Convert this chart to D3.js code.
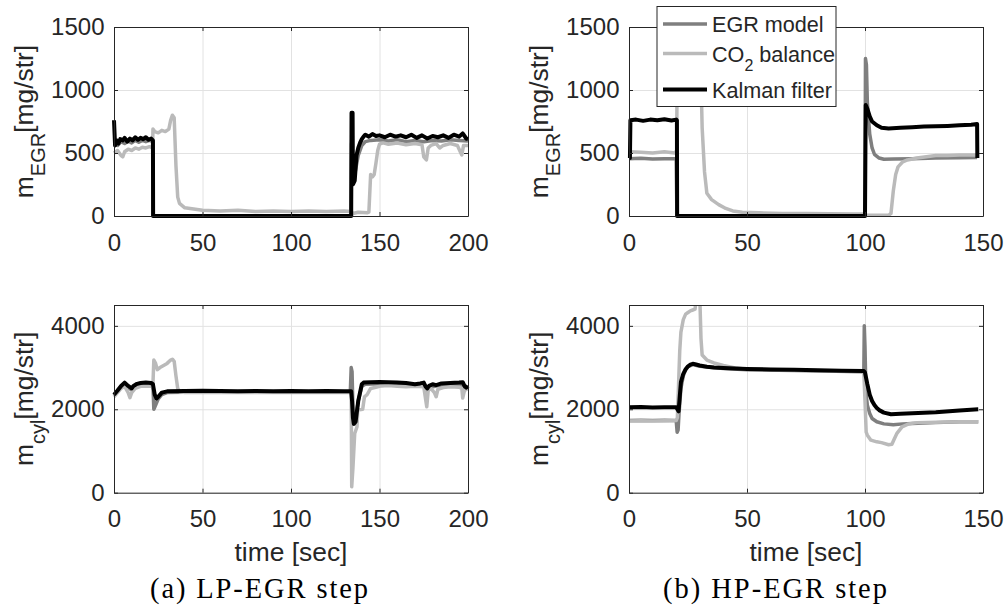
<!DOCTYPE html>
<html>
<head>
<meta charset="utf-8">
<script src="https://cdn.jsdelivr.net/npm/d3@7"></script>
<style>
  body { margin: 0; background: #fff; }
  svg text { font-family: "Liberation Sans", Arial, sans-serif; fill: #262626; }
  .grid line { stroke: #e2e2e2; stroke-width: 1; }
  .grid path { display: none; }
  .ax path, .ax line { stroke: #262626; stroke-width: 1; }
</style>
</head>
<body>
<div id="chart"></div>
<script>
// ---- data: [time sec, value mg/str] ----
const seriesNames = ["EGR model", "CO2 balance", "Kalman filter"];
const seriesColors = ["#7f7f7f", "#bababa", "#000000"];

const lpTimeTicks = [0, 50, 100, 150, 200];
const hpTimeTicks = [0, 50, 100, 150];
const egrTicks = [0, 500, 1000, 1500];
const cylTicks = [0, 2000, 4000];

// (a) LP-EGR step, m_EGR
const lpEgrModel = [[0,570],[2,560],[4,590],[6,575],[8,595],[10,580],[12,600],[14,585],[16,600],[18,590],[20,600],[22,590],[22.1,0],
  [134,0],[134.2,580],[135,300],[136,330],[138,480],[140,560],[142,590],[145,600],[150,605],[155,595],[160,605],[165,590],
  [170,600],[175,590],[180,600],[185,595],[190,605],[195,600],[200,595]];
const lpEgrCo2 = [[0,500],[2,520],[4,480],[5,470],[6,510],[8,530],[10,520],[12,540],[14,530],[16,545],[18,540],[20,550],[21.8,540],
  [22,690],[23,670],[25,660],[27,680],[29,670],[31,690],[32,760],[33,800],[34,780],[35,400],[36,150],[37,100],[40,65],[45,55],
  [50,45],[60,40],[70,45],[80,35],[90,40],[100,35],[110,40],[120,35],[130,40],[134,35],[135,20],[138,30],[143,25],[144,30],
  [145,330],[146,310],[147,330],[148,420],[149,520],[150,570],[152,580],[155,570],[160,580],[165,565],[170,575],[174,565],
  [175,470],[176.5,445],[177.5,540],[179,560],[182,575],[184,540],[186,560],[190,575],[194,560],[196.5,485],[197.5,560],[200,560]];
const lpEgrKalman = [[0,760],[0.6,560],[1.5,600],[2.5,575],[3.5,610],[5,600],[6,620],[7.5,590],[9,615],[10.5,600],[12,625],
  [13.5,605],[15,620],[16.5,610],[18,625],[19.5,605],[21,615],[22,600],[22.1,0],[134,0],[134.2,820],[134.8,820],[135,250],
  [136,280],[137,480],[138,540],[139,580],[140,610],[141,630],[142,645],[144,630],[146,650],[148,635],[150,640],[153,625],
  [156,645],[159,630],[162,640],[165,625],[168,645],[171,620],[174,640],[177,615],[180,635],[183,625],[186,640],[189,620],
  [192,645],[195,630],[197,655],[199,615],[200,610]];

// (b) HP-EGR step, m_EGR
const hpEgrModel = [[0,455],[5,458],[10,452],[15,455],[20,455],[20.3,0],[100,0],[100.2,1250],[100.6,1200],[101,900],[102,650],
  [103,540],[104,490],[106,460],[108,450],[112,452],[120,455],[130,460],[140,462],[147.5,465]];
const hpEgrCo2 = [[0,510],[5,505],[10,500],[15,510],[19.5,500],[20.2,520],[20.6,1900],[30,1900],[30.5,1100],[31,700],[32,350],
  [33,180],[35,130],[38,90],[41,60],[44,40],[48,30],[55,25],[65,20],[75,20],[85,18],[95,15],[100,15],[100.5,5],[105,5],[110,5],
  [111,20],[112,200],[113,330],[114,390],[116,430],[118,445],[122,460],[126,470],[130,480],[135,480],[140,485],[147.5,485]];
const hpEgrKalman = [[0,460],[0.4,460],[0.6,760],[3,765],[6,755],[9,765],[12,760],[15,768],[18,758],[20,765],[20.3,760],
  [20.4,0],[100,0],[100.3,880],[101,850],[102,790],[103,750],[105,720],[107,700],[110,695],[115,700],[120,705],[125,710],
  [130,712],[135,715],[140,720],[145,725],[147.5,730],[147.6,460]];

// (a) LP-EGR step, m_cyl
const lpCylModel = [[0,2330],[2,2420],[4,2530],[6,2600],[8,2520],[10,2460],[12,2560],[15,2600],[18,2610],[21,2600],[22,2580],
  [22.5,2000],[23,2050],[24,2150],[25,2250],[27,2350],[30,2400],[40,2410],[60,2420],[80,2410],[100,2420],[120,2410],
  [133.5,2410],[134,3000],[134.5,2900],[135,2000],[135.5,1700],[136.5,1750],[138,2200],[140,2550],[142,2600],[150,2610],
  [160,2600],[170,2580],[176,2560],[177,2450],[178,2520],[185,2580],[195,2600],[198,2520],[200,2540]];
const lpCylCo2 = [[0,2300],[2,2400],[4,2500],[6,2550],[8,2400],[9,2280],[10,2400],[12,2500],[15,2550],[18,2560],[21,2550],
  [22,2600],[22.5,3180],[23.5,3100],[24.5,2950],[26,3000],[28,3050],[30,3100],[32,3180],[33,3200],[34,3150],[35,2800],
  [36,2500],[37,2420],[40,2400],[60,2410],[80,2400],[100,2410],[120,2400],[134,2400],[134.3,140],[135,600],[136,1420],
  [137.3,1580],[137.7,1980],[140.5,2000],[141.5,2300],[143,2350],[145,2500],[149,2540],[151,2560],[155,2570],[160,2550],
  [165,2540],[170,2550],[175,2540],[176.2,2200],[176.7,2060],[177.5,2450],[179,2500],[181,2400],[182,2300],[183,2480],
  [186,2520],[190,2540],[195,2530],[196.5,2500],[197,2270],[198,2450],[200,2500]];
const lpCylKalman = [[0,2350],[2,2450],[4,2560],[6,2640],[8,2560],[10,2500],[11,2560],[13,2610],[15,2630],[18,2640],[21,2630],
  [22,2600],[23,2350],[24,2260],[25,2300],[27,2400],[30,2430],[40,2440],[50,2445],[60,2440],[70,2435],[80,2440],[90,2435],
  [100,2440],[110,2435],[120,2440],[130,2435],[134,2430],[134.5,2200],[135,1800],[135.5,1650],[136.5,1700],[138,2200],
  [140,2600],[141,2640],[145,2650],[150,2655],[155,2650],[160,2640],[165,2630],[170,2600],[173,2620],[175,2640],[176,2550],
  [177,2500],[178,2560],[180,2600],[182,2580],[185,2620],[190,2630],[195,2640],[197,2650],[198,2560],[199,2520],[200,2560]];

// (b) HP-EGR step, m_cyl
const hpCylModel = [[0,1730],[5,1735],[10,1730],[15,1735],[20,1730],[20.4,1450],[20.8,1500],[21.2,1900],[22,2500],[23,2800],
  [24,2950],[25,3020],[27,3070],[30,3030],[40,2980],[50,2950],[70,2930],[99.5,2900],[99.7,4000],[100,3500],[100.4,2400],
  [101,2100],[102,1900],[103,1780],[105,1700],[108,1650],[112,1630],[116,1650],[120,1660],[130,1680],[140,1700],[148,1700]];
const hpCylCo2 = [[0,1720],[5,1725],[10,1720],[15,1725],[20,1730],[20.5,1800],[21,2600],[21.5,3400],[22,3850],[23,4150],
  [24,4280],[25,4320],[26,4360],[27,4380],[28,4400],[28.5,4700],[30,4700],[30.5,3700],[31,3300],[33,3180],[36,3110],
  [40,3050],[45,2990],[50,2960],[70,2940],[99.5,2900],[100,2200],[100.5,1450],[101,1380],[102.5,1260],[105,1220],[107,1200],
  [110,1150],[111.4,1160],[112.5,1300],[113.6,1430],[115.7,1580],[118.5,1650],[122,1680],[130,1690],[140,1700],[148,1700]];
const hpCylKalman = [[0,2050],[5,2055],[10,2045],[15,2050],[20,2050],[20.5,2000],[21,1950],[21.5,2300],[22,2650],[23,2850],
  [24,2960],[25,3030],[26,3070],[27,3090],[28,3080],[30,3050],[33,3020],[36,3000],[40,2990],[45,2975],[50,2965],[60,2955],
  [70,2945],[80,2935],[90,2925],[99.5,2915],[100,2880],[101,2600],[102,2350],[103,2200],[104,2100],[105,2030],[106,1980],
  [108,1920],[111,1880],[115,1890],[120,1905],[130,1930],[140,1970],[148,2000]];

// ---- layout ----
const width = 1005, height = 614;
const svg = d3.select("#chart").append("svg").attr("width", width).attr("height", height);
svg.append("defs");

const panels = [
  {id:"aTop", x0:114, x1:468, y0:27, y1:216, xMax:200, xTicks:lpTimeTicks, yMax:1500, yTicks:egrTicks, sub:"EGR",
   series:[lpEgrModel, lpEgrCo2, lpEgrKalman]},
  {id:"bTop", x0:629, x1:983, y0:27, y1:216, xMax:150, xTicks:hpTimeTicks, yMax:1500, yTicks:egrTicks, sub:"EGR",
   series:[hpEgrModel, hpEgrCo2, hpEgrKalman], legend:true},
  {id:"aBot", x0:114, x1:468, y0:305, y1:492.7, xMax:200, xTicks:lpTimeTicks, yMax:4500, yTicks:cylTicks, sub:"cyl",
   series:[lpCylModel, lpCylCo2, lpCylKalman], xlabel:true},
  {id:"bBot", x0:629, x1:983, y0:305, y1:492.7, xMax:150, xTicks:hpTimeTicks, yMax:4500, yTicks:cylTicks, sub:"cyl",
   series:[hpCylModel, hpCylCo2, hpCylKalman], xlabel:true}
];

const tickLen = 4;
const strokeW = [3.5, 3.5, 4];

function drawPanel(p) {
  const x = d3.scaleLinear().domain([0, p.xMax]).range([p.x0, p.x1]);
  const y = d3.scaleLinear().domain([0, p.yMax]).range([p.y1, p.y0]);
  const g = svg.append("g");

  // grid
  g.append("g").attr("class", "grid")
    .attr("transform", `translate(0,${p.y1})`)
    .call(d3.axisBottom(x).tickValues(p.xTicks).tickSize(-(p.y1 - p.y0)).tickFormat(""));
  g.append("g").attr("class", "grid")
    .attr("transform", `translate(${p.x0},0)`)
    .call(d3.axisLeft(y).tickValues(p.yTicks).tickSize(-(p.x1 - p.x0)).tickFormat(""));

  // data lines, clipped to the axes box
  svg.select("defs").append("clipPath").attr("id", "clip-" + p.id)
    .append("rect").attr("x", p.x0 - 3).attr("y", p.y0)
    .attr("width", p.x1 - p.x0 + 6).attr("height", p.y1 - p.y0 + 3);
  const line = d3.line().x(d => x(d[0])).y(d => y(d[1]));
  const lines = g.append("g").attr("clip-path", `url(#clip-${p.id})`);
  p.series.forEach((s, i) => {
    lines.append("path").datum(s)
      .attr("d", line)
      .attr("fill", "none")
      .attr("stroke", seriesColors[i])
      .attr("stroke-width", strokeW[i])
      .attr("stroke-linejoin", "round");
  });

  // axes (box with inward ticks)
  const fs = 24;
  const fmt = d3.format("d");
  const bottom = g.append("g").attr("class", "ax")
    .attr("transform", `translate(0,${p.y1})`)
    .call(d3.axisBottom(x).tickValues(p.xTicks).tickFormat(fmt).tickSizeInner(-tickLen).tickSizeOuter(0).tickPadding(17.5));
  bottom.selectAll("text").attr("font-size", fs).attr("fill", "#262626");
  const left = g.append("g").attr("class", "ax")
    .attr("transform", `translate(${p.x0},0)`)
    .call(d3.axisLeft(y).tickValues(p.yTicks).tickFormat(fmt).tickSizeInner(-tickLen).tickSizeOuter(0).tickPadding(9.5));
  left.selectAll("text").attr("font-size", fs).attr("dy", "0.32em").attr("fill", "#262626");
  g.append("g").attr("class", "ax")
    .attr("transform", `translate(0,${p.y0})`)
    .call(d3.axisTop(x).tickValues(p.xTicks).tickSizeInner(-tickLen).tickSizeOuter(0).tickFormat(""));
  g.append("g").attr("class", "ax")
    .attr("transform", `translate(${p.x1},0)`)
    .call(d3.axisRight(y).tickValues(p.yTicks).tickSizeInner(-tickLen).tickSizeOuter(0).tickFormat(""));
  g.selectAll(".ax .domain").attr("stroke", "#262626");

  // y label m_sub[mg/str]
  const ly = (p.y0 + p.y1) / 2;
  const lab = g.append("text")
    .attr("transform", `translate(${p.x0 - 81},${ly}) rotate(-90)`)
    .attr("text-anchor", "middle")
    .attr("font-size", 26.4);
  lab.append("tspan").text("m");
  lab.append("tspan").attr("font-size", 20).attr("dy", 12).text(p.sub);
  lab.append("tspan").attr("dy", -12).text("[mg/str]");

  if (p.xlabel) {
    g.append("text")
      .attr("x", (p.x0 + p.x1) / 2).attr("y", 561)
      .attr("text-anchor", "middle").attr("font-size", 26.4)
      .text("time [sec]");
  }

  if (p.legend) drawLegend();
}

function drawLegend() {
  const lg = svg.append("g").attr("transform", "translate(657,6.5)");
  lg.append("rect").attr("width", 179).attr("height", 100)
    .attr("fill", "#fff").attr("stroke", "#262626").attr("stroke-width", 1);
  const rowLine = [17.5, 47, 83];
  const rowBase = [25.2, 55.2, 91.8];
  seriesNames.forEach((name, i) => {
    lg.append("line").attr("x1", 6).attr("x2", 50)
      .attr("y1", rowLine[i]).attr("y2", rowLine[i])
      .attr("stroke", seriesColors[i]).attr("stroke-width", strokeW[i]);
    const t = lg.append("text").attr("x", 55).attr("y", rowBase[i]).attr("font-size", 21.6);
    if (name.startsWith("CO2")) {
      t.append("tspan").text("CO");
      t.append("tspan").attr("font-size", 16).attr("dy", 9).text("2");
      t.append("tspan").attr("dy", -9).text(" balance");
    } else {
      t.text(name);
    }
  });
}

panels.forEach(drawPanel);

// captions
const captions = [
  {text: "(a) LP-EGR step", cx: 259, len: 218},
  {text: "(b) HP-EGR step", cx: 775, len: 224}
];
captions.forEach(c => {
  svg.append("text")
    .attr("x", c.cx).attr("y", 598)
    .attr("text-anchor", "middle")
    .attr("font-size", 28.5)
    .attr("textLength", c.len)
    .attr("lengthAdjust", "spacing")
    .style("font-family", "'Liberation Serif', 'Times New Roman', serif")
    .style("fill", "#000")
    .text(c.text);
});
</script>
</body>
</html>
